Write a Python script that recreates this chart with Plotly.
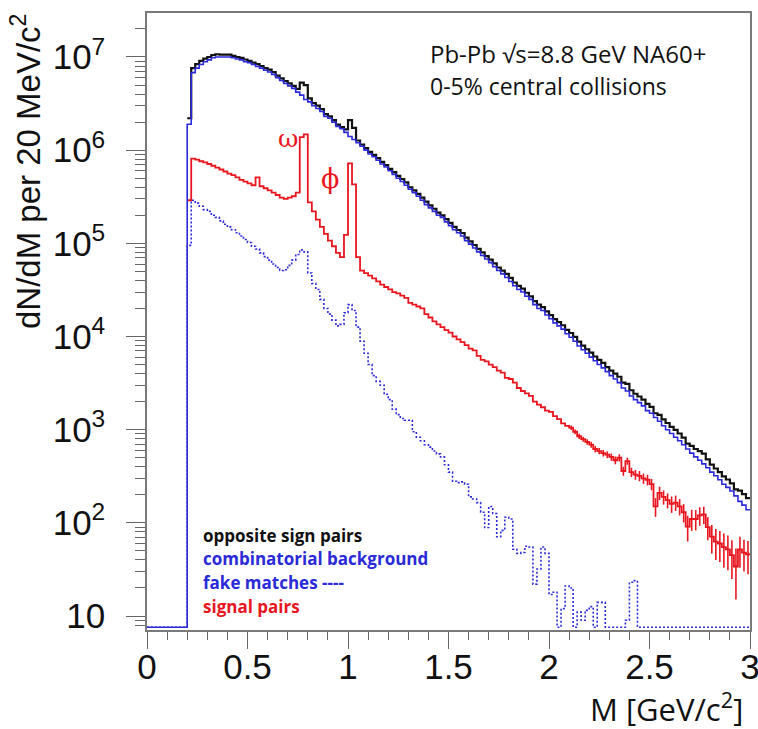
import numpy as np
import plotly.graph_objects as go

# ---------------- data ----------------
bin_width = 0.02          # GeV/c^2 (20 MeV bins)
first_edge = 0.20         # first filled bin low edge
n_empty_low = 10          # empty bins between 0 and 0.2 GeV/c^2

# opposite sign pairs (black)
opposite_sign = [
    2.2e6, 7.6e6, 8.4e6, 9.1e6, 9.6e6, 1.0e7, 1.05e7, 1.07e7, 1.06e7, 1.06e7,
    1.06e7, 1.03e7, 1.0e7, 9.8e6, 9.4e6, 9.1e6, 8.7e6, 8.4e6, 8.0e6, 7.6e6,
    7.3e6, 6.9e6, 6.3e6, 5.9e6, 5.5e6, 5.2e6, 4.9e6, 4.55e6, 5.3e6, 5.0e6,
    3.6e6, 3.2e6, 3.0e6, 2.75e6, 2.43e6, 2.3e6, 2.1e6, 1.88e6, 1.77e6, 1.67e6,
    2.1e6, 1.73e6, 1.27e6, 1.15e6, 1.05e6, 9.6e5, 8.9e5, 8.2e5, 7.5e5, 6.9e5,
    6.3e5, 5.8e5, 5.3e5, 4.9e5, 4.5e5, 4.0e5, 3.7e5, 3.4e5, 3.1e5, 2.8e5,
    2.56e5, 2.35e5, 2.14e5, 2.0e5, 1.82e5, 1.66e5, 1.5e5, 1.39e5, 1.29e5, 1.15e5,
    1.05e5, 9.6e4, 8.7e4, 8.0e4, 7.3e4, 6.7e4, 6.1e4, 5.5e4, 5.1e4, 4.7e4,
    4.25e4, 3.8e4, 3.5e4, 3.26e4, 2.95e4, 2.7e4, 2.4e4, 2.2e4, 2.07e4, 1.86e4,
    1.7e4, 1.54e4, 1.43e4, 1.32e4, 1.18e4, 1.09e4, 9.9e3, 8.8e3, 8.0e3, 7.3e3,
    6.7e3, 6.1e3, 5.6e3, 5.2e3, 4.7e3, 4.3e3, 4.0e3, 3.7e3, 3.2e3, 3.1e3,
    2.65e3, 2.43e3, 2.27e3, 2.1e3, 1.89e3, 1.76e3, 1.5e3, 1.44e3, 1.29e3, 1.18e3,
    1070, 995, 910, 820, 710, 670, 620, 590, 553, 480,
    421, 383, 350, 315, 292, 265, 229, 222, 203, 184,
]

# combinatorial background (blue, solid)
combinatorial = [
    1.9e6, 6.8e6, 7.6e6, 8.3e6, 8.9e6, 9.3e6, 9.8e6, 1.0e7, 1.0e7, 1.0e7,
    1.0e7, 9.8e6, 9.5e6, 9.3e6, 8.9e6, 8.7e6, 8.3e6, 7.9e6, 7.6e6, 7.2e6,
    6.9e6, 6.5e6, 6.0e6, 5.6e6, 5.2e6, 4.9e6, 4.6e6, 4.2e6, 3.9e6, 3.5e6,
    3.3e6, 3.0e6, 2.8e6, 2.6e6, 2.3e6, 2.2e6, 2.0e6, 1.8e6, 1.7e6, 1.55e6,
    1.4e6, 1.3e6, 1.2e6, 1.1e6, 1.0e6, 9.1e5, 8.5e5, 7.8e5, 7.1e5, 6.6e5,
    6.0e5, 5.5e5, 5.0e5, 4.6e5, 4.2e5, 3.8e5, 3.5e5, 3.2e5, 2.9e5, 2.6e5,
    2.4e5, 2.2e5, 2.0e5, 1.9e5, 1.7e5, 1.55e5, 1.4e5, 1.3e5, 1.2e5, 1.07e5,
    9.8e4, 8.9e4, 8.1e4, 7.4e4, 6.8e4, 6.2e4, 5.6e4, 5.1e4, 4.7e4, 4.3e4,
    3.9e4, 3.5e4, 3.2e4, 3.0e4, 2.7e4, 2.5e4, 2.2e4, 2.0e4, 1.9e4, 1.7e4,
    1.55e4, 1.4e4, 1.3e4, 1.2e4, 1.07e4, 9.8e3, 8.9e3, 7.9e3, 7.2e3, 6.6e3,
    6.0e3, 5.5e3, 5.0e3, 4.6e3, 4.2e3, 3.8e3, 3.5e3, 3.2e3, 2.8e3, 2.6e3,
    2.3e3, 2.1e3, 1.95e3, 1.8e3, 1.6e3, 1.5e3, 1.35e3, 1.23e3, 1.1e3, 1.0e3,
    910, 830, 760, 690, 620, 560, 510, 470, 430, 390,
    350, 320, 290, 260, 240, 220, 195, 170, 155, 138,
]

# fake matches (blue, dotted); 0 = empty bin
fake_matches = [
    9.5e4, 2.9e5, 2.7e5, 2.5e5, 2.3e5, 2.2e5, 2.0e5, 1.9e5, 1.74e5, 1.6e5,
    1.5e5, 1.4e5, 1.3e5, 1.2e5, 1.1e5, 1.02e5, 9.3e4, 8.7e4, 7.9e4, 7.2e4,
    6.6e4, 6.0e4, 5.5e4, 5.1e4, 5.2e4, 5.8e4, 6.6e4, 7.6e4, 8.5e4, 8.1e4,
    4.8e4, 3.7e4, 3.2e4, 2.5e4, 2.0e4, 1.74e4, 1.5e4, 1.3e4, 1.35e4, 1.8e4,
    2.2e4, 1.9e4, 1.26e4, 8.9e3, 6.6e3, 5.0e3, 3.8e3, 3.3e3, 3.0e3, 2.4e3,
    2.1e3, 1.66e3, 1.45e3, 1.32e3, 1.26e3, 1.26e3, 950, 830, 760, 690,
    650, 590, 550, 510, 420, 350, 280, 270, 275, 260,
    190, 180, 165, 130, 89, 150, 126, 71, 83, 115,
    110, 52, 47, 48, 56, 55, 22, 32, 55, 47,
    17, 18, 0, 12, 21, 20, 0, 11, 9, 11.5,
    12.6, 0, 14, 14, 0, 0, 0, 0, 0, 9,
    23, 24, 0, 0, 0, 0, 0, 0, 0, 0,
    0, 0, 0, 0, 0, 0, 0, 0, 0, 0,
    0, 0, 0, 0, 0, 0, 0, 0, 0, 0,
]

# signal pairs (red)
signal = [
    2.9e5, 8.1e5, 7.9e5, 7.6e5, 7.4e5, 7.1e5, 6.8e5, 6.5e5, 6.2e5, 5.9e5,
    5.6e5, 5.4e5, 5.1e5, 4.8e5, 4.6e5, 4.4e5, 4.2e5, 5.1e5, 4.1e5, 3.9e5,
    3.7e5, 3.5e5, 3.3e5, 3.1e5, 3.0e5, 3.1e5, 3.2e5, 3.5e5, 1.38e6, 1.48e6,
    2.75e5, 2.2e5, 1.8e5, 1.5e5, 1.26e5, 1.07e5, 9.3e4, 7.9e4, 7.1e4, 1.23e5,
    7.2e5, 4.3e5, 7.1e4, 5.1e4, 4.8e4, 4.5e4, 4.2e4, 3.9e4, 3.6e4, 3.4e4,
    3.2e4, 3.0e4, 2.9e4, 2.75e4, 2.6e4, 2.3e4, 2.2e4, 2.1e4, 2.0e4, 1.74e4,
    1.6e4, 1.45e4, 1.35e4, 1.26e4, 1.17e4, 1.1e4, 1.0e4, 9.3e3, 8.7e3, 8.1e3,
    7.4e3, 7.1e3, 6.2e3, 5.6e3, 5.4e3, 5.0e3, 4.7e3, 4.3e3, 4.1e3, 3.6e3,
    3.5e3, 3.2e3, 2.8e3, 2.6e3, 2.45e3, 2.3e3, 2.0e3, 1.86e3, 1.74e3, 1.6e3,
    1.55e3, 1.4e3, 1.3e3, 1.17e3, 1.1e3, 1.05e3, 950, 850, 790, 740,
    690, 620, 590, 560, 540, 510, 470, 500, 360, 460,
    350, 330, 320, 300, 290, 260, 150, 210, 190, 175,
    160, 165, 150, 130, 91, 110, 110, 120, 123, 90,
    71, 63, 60, 55, 52, 45, 34, 52, 48, 46,
]

# statistical errors of the signal, from M = 2.10 GeV/c^2 on
signal_err_first_edge = 2.10
signal_err = [
    60, 55, 55, 50, 50, 50, 50, 45, 45, 45,
    45, 45, 45, 40, 40, 40, 40, 40, 38, 38,
    36, 34, 34, 33, 32, 32, 31, 30, 29, 28,
    28, 27, 27, 26, 25, 24, 23, 22, 22, 21,
    20, 19, 19, 18, 18,
]

x_tick_vals = [0, 0.5, 1, 1.5, 2, 2.5, 3]
x_tick_text = ["0", "0.5", "1", "1.5", "2", "2.5", "3"]
y_tick_vals = [1e1, 1e2, 1e3, 1e4, 1e5, 1e6, 1e7]
y_tick_text = ["10", "10<sup>2</sup>", "10<sup>3</sup>", "10<sup>4</sup>",
               "10<sup>5</sup>", "10<sup>6</sup>", "10<sup>7</sup>"]

# ---------------- styling / layout ----------------
W, H = 758, 729
ML, MR, MT, MB = 147, 8, 13, 99
PW, PH = W - ML - MR, H - MT - MB
x_range = [0, 3]
y_log_range = [0.85, 7.472]
floor_value = 10 ** (y_log_range[0] + 0.03)   # empty bins drawn at frame bottom

BLACK = "#111111"
BLUE = "#2a2ad8"
RED = "#e8161e"


def step_xy(values, start_edge, n_lead_empty=0):
    vals = [0.0] * n_lead_empty + list(values)
    start = start_edge - n_lead_empty * bin_width
    edges = start + bin_width * np.arange(len(vals))
    x = np.append(edges, edges[-1] + bin_width)
    y = np.array(vals, dtype=float)
    y = np.where(y > 0, y, floor_value)
    y = np.append(y, y[-1])
    return x, y


def px_to_paper(px, py):
    return (px - ML) / PW, (H - MB - py) / PH


fig = go.Figure()

xb, yb = step_xy(opposite_sign, first_edge)
fig.add_trace(go.Scatter(x=xb, y=yb, mode="lines", line=dict(color=BLACK, width=2.2, shape="hv"),
                         name="opposite sign pairs"))

xr, yr = step_xy(signal, first_edge)
fig.add_trace(go.Scatter(x=xr, y=yr, mode="lines", line=dict(color=RED, width=1.8, shape="hv"),
                         name="signal pairs"))

i0 = int(round((signal_err_first_edge - first_edge) / bin_width))
err_centers = first_edge + bin_width * (np.arange(i0, len(signal)) + 0.5)
fig.add_trace(go.Scatter(x=err_centers, y=signal[i0:], mode="markers",
                         marker=dict(size=1, color=RED),
                         error_y=dict(type="data", array=signal_err, color=RED, thickness=1.6, width=0),
                         name="signal errors"))

xf, yf = step_xy(fake_matches, first_edge, n_empty_low)
fig.add_trace(go.Scatter(x=xf, y=yf, mode="lines",
                         line=dict(color=BLUE, width=1.6, shape="hv", dash="2px,2px"),
                         name="fake matches"))

xc, yc = step_xy(combinatorial, first_edge, n_empty_low)
fig.add_trace(go.Scatter(x=xc, y=yc, mode="lines", line=dict(color=BLUE, width=1.6, shape="hv"),
                         name="combinatorial background"))

axis_common = dict(showline=True, mirror=True, linecolor="#7a7a7a", linewidth=1.5,
                   showgrid=False, zeroline=False, ticks="outside", tickcolor="#666666",
                   tickwidth=1.2, automargin=False, ticklabeloverflow="allow",
                   tickfont=dict(family="Liberation Sans, Arial, sans-serif",
                                 size=35, color="#111111"))

y_minor = [m * 10 ** d for d in range(0, 8) for m in range(2, 10)
           if y_log_range[0] <= np.log10(m * 10 ** d) <= y_log_range[1]]

fig.update_xaxes(range=x_range, tickvals=x_tick_vals, ticktext=x_tick_text, ticklen=17,
                 ticklabelstandoff=-12,
                 minor=dict(dtick=0.1, ticklen=8, ticks="outside", tickcolor="#666666", tickwidth=1.2),
                 **axis_common)
fig.update_yaxes(type="log", range=y_log_range, tickvals=y_tick_vals, ticktext=y_tick_text,
                 ticklen=19, ticklabelstandoff=14,
                 minor=dict(tickvals=y_minor, ticklen=10, ticks="outside", tickcolor="#666666", tickwidth=1.2),
                 **axis_common)

ann = []
# axis titles
tx, ty = px_to_paper(26, 172)
ann.append(dict(text="dN/dM per 20 MeV/c<sup>2</sup>", x=tx, y=ty, xref="paper", yref="paper",
                textangle=-90, showarrow=False, xanchor="center", yanchor="middle",
                font=dict(family="Liberation Sans, Arial, sans-serif", size=33, color="#111111")))
tx, ty = px_to_paper(745, 707)
ann.append(dict(text="M [GeV/c<sup>2</sup>]", x=tx, y=ty, xref="paper", yref="paper",
                showarrow=False, xanchor="right", yanchor="middle",
                font=dict(family="Open Sans, sans-serif", size=31, color="#111111")))
# header texts
tx, ty = px_to_paper(428, 54)
ann.append(dict(text="Pb-Pb √s=8.8 GeV NA60+", x=tx, y=ty, xref="paper", yref="paper",
                showarrow=False, xanchor="left", yanchor="middle",
                font=dict(family="Open Sans, sans-serif", size=24, color="#111111")))
tx, ty = px_to_paper(428, 86)
ann.append(dict(text="0-5% central collisions", x=tx, y=ty, xref="paper", yref="paper",
                showarrow=False, xanchor="left", yanchor="middle",
                font=dict(family="Open Sans, sans-serif", size=23, color="#111111")))
# legend-like labels
legend_rows = [("opposite sign pairs", BLACK, 535), ("combinatorial background", BLUE, 558),
               ("fake matches ----", BLUE, 582), ("signal pairs", RED, 606)]
for txt, col, py in legend_rows:
    tx, ty = px_to_paper(201, py)
    ann.append(dict(text="<b>" + txt + "</b>", x=tx, y=ty, xref="paper", yref="paper",
                    showarrow=False, xanchor="left", yanchor="middle",
                    font=dict(family="Open Sans, sans-serif", size=17, color=col)))
# resonance labels
ann.append(dict(text="ω", x=0.70, y=6.13, xref="x", yref="y", showarrow=False,
                font=dict(family="DejaVu Serif, serif", size=25, color=RED)))
ann.append(dict(text="ϕ", x=0.91, y=5.70, xref="x", yref="y", showarrow=False,
                font=dict(family="DejaVu Serif, serif", size=27, color=RED)))

fig.update_layout(width=W, height=H, margin=dict(l=ML, r=MR, t=MT, b=MB),
                  paper_bgcolor="white", plot_bgcolor="white", showlegend=False,
                  annotations=ann)

fig.write_html("out.html")
